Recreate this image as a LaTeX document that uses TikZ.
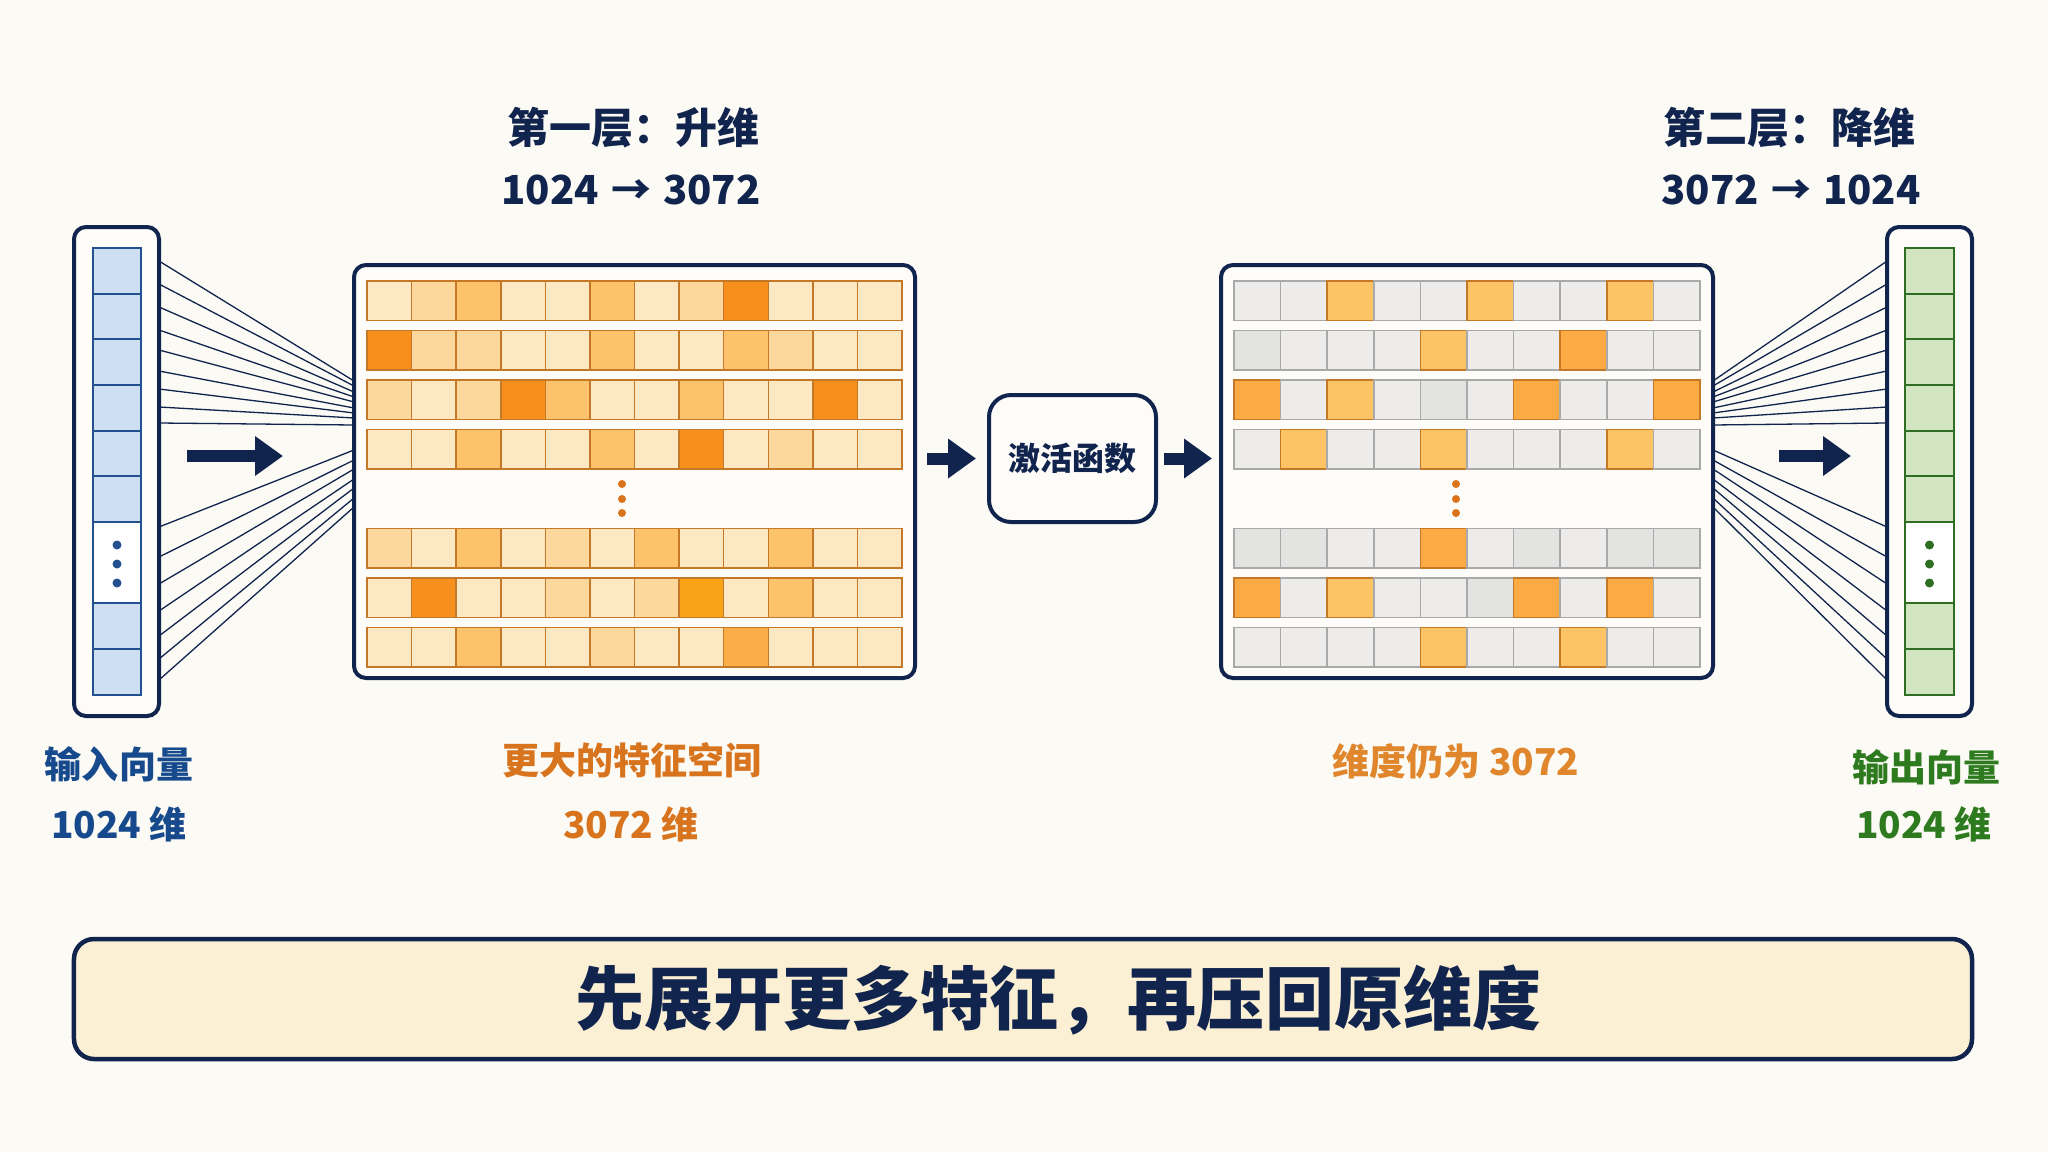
\documentclass[tikz,border=0pt]{standalone}
\usepackage{fontspec}
\setmainfont{Noto Sans CJK SC}
\newfontfamily\blackfont{Noto Sans CJK SC Black}
\usetikzlibrary{arrows.meta,calc}
\definecolor{bg}{HTML}{FCFAF4}
\definecolor{navy}{HTML}{10244E}
\definecolor{boxbg}{HTML}{FDFCF9}
\definecolor{bannerbg}{HTML}{FBF0D3}
\definecolor{txtblue}{HTML}{174A8C}
\definecolor{txtorange}{HTML}{D9741E}
\definecolor{txtorange2}{HTML}{E0862C}
\definecolor{txtgreen}{HTML}{2D7A1F}
\definecolor{bfill}{HTML}{CFDFF3}
\definecolor{bedge}{HTML}{23508F}
\definecolor{gfill}{HTML}{D3E4C0}
\definecolor{gedge}{HTML}{2F6E22}
\definecolor{oedge}{HTML}{C47828}
\definecolor{cL}{HTML}{FDE8C4}
\definecolor{cA}{HTML}{FDD89C}
\definecolor{cB}{HTML}{FCC36C}
\definecolor{cC}{HTML}{FBAE48}
\definecolor{cD}{HTML}{F68F1C}
\definecolor{cY}{HTML}{F9A416}
\definecolor{cG}{HTML}{EDECEA}
\definecolor{cH}{HTML}{E3E3E1}
\definecolor{cO}{HTML}{FDC466}
\definecolor{cP}{HTML}{FBAA44}
\definecolor{grayedge}{HTML}{A9A9A9}
\definecolor{odot}{HTML}{D9741C}
\begin{document}
\begin{tikzpicture}[x=1bp,y=-1bp,
  frame/.style={draw=navy, line width=4bp, rounded corners=12bp, fill=boxbg, inner sep=0pt, outer sep=0pt},
  banner/.style={draw=navy, line width=4.5bp, rounded corners=20bp, fill=bannerbg, inner sep=0pt, outer sep=0pt},
  fan/.style={draw=navy, line width=1.3bp},
  bigarrow/.style={draw=navy, line width=12bp, -{Triangle[length=28bp,width=38bp]}},
  bcell/.style={draw=bedge, line width=2bp, fill=bfill},
  gcell/.style={draw=gedge, line width=2bp, fill=gfill},
  m1L/.style={draw=oedge, line width=1.5bp, fill=cL},
  m1A/.style={draw=oedge, line width=1.5bp, fill=cA},
  m1B/.style={draw=oedge, line width=1.5bp, fill=cB},
  m1C/.style={draw=oedge, line width=1.5bp, fill=cC},
  m1D/.style={draw=oedge, line width=1.5bp, fill=cD},
  m1Y/.style={draw=oedge, line width=1.5bp, fill=cY},
  m2G/.style={draw=grayedge, line width=1.5bp, fill=cG},
  m2H/.style={draw=grayedge, line width=1.5bp, fill=cH},
  m2O/.style={draw=oedge, line width=1.5bp, fill=cO},
  m2P/.style={draw=oedge, line width=1.5bp, fill=cP},
  title/.style={font=\fontsize{42bp}{50bp}\selectfont\bfseries, text=navy, inner sep=0pt},
  numtitle/.style={font=\fontsize{40bp}{48bp}\selectfont\bfseries, text=navy, inner sep=0pt},
  lbl/.style={font=\fontsize{37bp}{44bp}\selectfont\bfseries, inner sep=0pt}
]
\fill[bg] (0,0) rectangle (2048,1152);
\useasboundingbox (0,0) rectangle (2048,1152);

% main boxes
\node[frame, minimum width=85bp, minimum height=489bp] (vin) at (116.5,471.5) {};
\node[frame, minimum width=85bp, minimum height=489bp] (vout) at (1929.5,471.5) {};
\node[frame, minimum width=561bp, minimum height=413bp] (m1) at (634.5,471.5) {};
\node[frame, minimum width=492bp, minimum height=413bp] (m2) at (1467,471.5) {};
\node[frame, minimum width=167bp, minimum height=127bp, rounded corners=22bp,
      font=\fontsize{32bp}{38bp}\selectfont\bfseries, text=navy] (act) at (1072.5,458.5) {激活函数};

% vector cells
\foreach \a/\b in {248/293.7,293.7/339.3,339.3/385,385/430.7,430.7/476.3,476.3/522,603/649,649/695}{
  \draw[bcell] (93,\a) rectangle (141,\b);
  \draw[gcell] (1905,\a) rectangle (1954,\b);
}
\draw[draw=bedge, line width=2bp, fill=white] (93,522) rectangle (141,603);
\draw[draw=gedge, line width=2bp, fill=white] (1905,522) rectangle (1954,603);
\foreach \y in {545,564,583}{
  \fill[bedge] (117,\y) circle (4.5bp);
  \fill[gedge] (1929.5,\y) circle (4.5bp);
}

% matrix 1 cells
\foreach \y/\cols in {281/{L,A,B,L,L,B,L,A,D,L,L,L},
                      330.5/{D,A,A,L,L,B,L,L,B,A,L,L},
                      380/{A,L,A,D,B,L,L,B,L,L,D,L},
                      429.5/{L,L,B,L,L,B,L,D,L,A,L,L},
                      528.5/{A,L,B,L,A,L,B,L,L,B,L,L},
                      578/{L,D,L,L,A,L,A,Y,L,B,L,L},
                      627.5/{L,L,B,L,L,A,L,L,C,L,L,L}}{
  \foreach \c [count=\i from 0] in \cols{
    \draw[m1\c] ({367+\i*44.583},\y) rectangle ++(44.583,39.5);
  }
}
% matrix 2 cells
\foreach \y/\cols in {281/{G,G,O,G,G,O,G,G,O,G},
                      330.5/{H,G,G,G,O,G,G,P,G,G},
                      380/{P,G,O,G,H,G,P,G,G,P},
                      429.5/{G,O,G,G,O,G,G,G,O,G},
                      528.5/{H,H,G,G,P,G,H,G,H,H},
                      578/{P,G,O,G,G,H,P,G,P,G},
                      627.5/{G,G,G,G,O,G,G,O,G,G}}{
  \foreach \c [count=\i from 0] in \cols{
    \draw[m2\c] ({1234+\i*46.6},\y) rectangle ++(46.6,39.5);
  }
}
\foreach \y in {484,499,513}{
  \fill[odot] (622,\y) circle (4bp);
  \fill[odot] (1456,\y) circle (4bp);
}

% fan lines
\foreach \s/\e in {34/116,57/121,80/127,103/132,123/137,144/143,162/148,180/153,196/160,
                   300/185,330/195,357/204,384/214,409/223,432/233,453/242}{
  \draw[fan] ($(vin.north east)+(0,\s)$) -- ($(m1.north west)+(0,\e)$);
  \draw[fan] ($(m2.north east)+(0,\e)$) -- ($(vout.north west)+(0,\s)$);
}

% big arrows
\coordinate (la1) at (187,456);
\coordinate (la2) at (283,456);
\coordinate (ra1) at (1779,456);
\coordinate (ra2) at (1851,456);
\draw[bigarrow] (la1) -- (la2);
\draw[bigarrow] (ra1) -- (ra2);
\draw[bigarrow, shorten <=12bp, shorten >=13bp] (m1.east |- act.west) -- (act.west);
\draw[bigarrow, shorten <=8bp, shorten >=9bp] (act.east) -- (m2.west |- act.east);

% titles
\node[title] (t1a) at (633,128) {第一层：升维};
\node[numtitle] (t1b) at (631,190) {1024\hspace{12bp}→\hspace{12bp}3072};
\node[title] (t2a) at (1789,128) {第二层：降维};
\node[numtitle] (t2b) at (1791,190) {3072\hspace{12bp}→\hspace{12bp}1024};

% labels
\node[lbl, text=txtblue] (l1a) at (119,764) {输入向量};
\node[lbl, text=txtblue] (l1b) at (119,824) {1024 维};
\node[lbl, text=txtorange] (l2a) at (632,760) {更大的特征空间};
\node[lbl, text=txtorange] (l2b) at (631,824) {3072 维};
\node[lbl, text=txtorange2] (l3a) at (1456,761) {维度仍为 3072};
\node[lbl, text=txtgreen] (l4a) at (1926,767) {输出向量};
\node[lbl, text=txtgreen] (l4b) at (1924,824) {1024 维};

% banner
\node[banner, minimum width=1898bp, minimum height=120bp] (ban) at (1023,999) {};
\node[font=\fontsize{69bp}{80bp}\selectfont\blackfont, text=navy, inner sep=0pt] (bantext) at (1058,1000) {先展开更多特征，再压回原维度};
\end{tikzpicture}
\end{document}
